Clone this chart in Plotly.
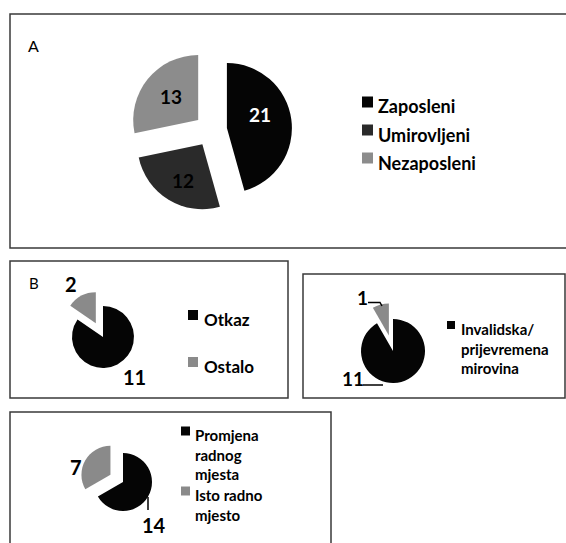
import plotly.graph_objects as go

W, H = 566, 543

# ---- data ----
a_labels = ["Zaposleni", "Umirovljeni", "Nezaposleni"]
a_values = [21, 12, 13]
a_colors = ["#050505", "#2a2a2a", "#8c8c8c"]
a_text_colors = ["white", "black", "black"]

b1_labels = ["Otkaz", "Ostalo"]
b1_values = [11, 2]
b1_colors = ["#050505", "#8a8a8a"]

b2_labels = ["Invalidska/<br>prijevremena<br>mirovina", "Ostalo"]
b2_values = [11, 1]
b2_colors = ["#050505", "#8a8a8a"]
b2_legend_items = [0]  # only first category listed in legend

c_labels = ["Promjena<br>radnog<br>mjesta", "Isto radno<br>mjesto"]
c_values = [14, 7]
c_colors = ["#050505", "#8a8a8a"]

FONT = "Lato"

# ---- layout helpers (pixel -> paper) ----
def px(x):
    return x / W


def py(y):
    return 1 - y / H


def domain(cx, cy, r, pull):
    h = r * (1 + max(pull))
    return dict(x=[px(cx - h), px(cx + h)], y=[py(cy + h), py(cy - h)])


fig = go.Figure()

shapes = []
annotations = []


def value_label(text, x, y, size=19, color="black"):
    annotations.append(dict(text="<b>%s</b>" % text, x=px(x), y=py(y), xref="paper", yref="paper",
                            xanchor="center", yanchor="middle", showarrow=False,
                            font=dict(family=FONT, size=size, color=color)))


def leader(points):
    path = "M " + " L ".join("%f,%f" % (px(x), py(y)) for x, y in points)
    shapes.append(dict(type="path", xref="paper", yref="paper", path=path,
                       line=dict(color="black", width=1.5)))


# Panel A
pa = [0.25, 0.25, 0.25]
fig.add_trace(go.Pie(
    labels=a_labels, values=a_values, sort=False, direction="clockwise", rotation=0,
    marker=dict(colors=a_colors, line=dict(width=0)), pull=pa,
    textinfo="none", domain=domain(210.8, 130.3, 65, pa), showlegend=False,
    hoverinfo="label+value"))
for v, c, (x, y) in zip(a_values, a_text_colors, [(260, 114), (183, 180), (171, 96)]):
    value_label(v, x, y, 19, c)

# Panel B1
pb1 = [0, 0.5]
fig.add_trace(go.Pie(
    labels=b1_labels, values=b1_values, sort=False, direction="clockwise", rotation=0,
    marker=dict(colors=b1_colors, line=dict(width=0)), pull=pb1,
    textinfo="none", domain=domain(103, 337, 31, pb1), showlegend=False,
    hoverinfo="label+value"))
for v, (x, y) in zip(b1_values, [(134, 377), (71, 284)]):
    value_label(v, x, y, 20)

# Panel B2
pb2 = [0, 0.5]
fig.add_trace(go.Pie(
    labels=b2_labels, values=b2_values, sort=False, direction="clockwise", rotation=0,
    marker=dict(colors=b2_colors, line=dict(width=0)), pull=pb2,
    textinfo="none", domain=domain(393, 351, 32, pb2), showlegend=False,
    hoverinfo="label+value"))
for v, (x, y) in zip(b2_values, [(353, 378), (362, 297)]):
    value_label(v, x, y, 19)
leader([(363, 385), (383, 385)])
leader([(368, 302.5), (380, 302.5), (382, 306)])

# Panel C
pc = [0, 0.5]
fig.add_trace(go.Pie(
    labels=c_labels, values=c_values, sort=False, direction="clockwise", rotation=0,
    marker=dict(colors=c_colors, line=dict(width=0)), pull=pc,
    textinfo="none", domain=domain(123, 482, 29, pc), showlegend=False,
    hoverinfo="label+value"))
for v, (x, y) in zip(c_values, [(154, 525), (76, 467)]):
    value_label(v, x, y, 20)
leader([(148, 497), (148, 510)])

# panel frames
frames = [(10, 14, 572, 248), (10, 261, 288, 398), (303, 274, 565, 398), (10, 412, 331, 550)]
for x0, y0, x1, y1 in frames:
    shapes.append(dict(type="rect", xref="paper", yref="paper",
                       x0=px(x0), x1=px(x1), y0=py(y1), y1=py(y0),
                       line=dict(color="#3a3a3a", width=1.5)))

# panel letters
annotations.append(dict(text="A", x=px(26), y=py(45), xref="paper", yref="paper",
                        xanchor="left", yanchor="middle", showarrow=False,
                        font=dict(family=FONT, size=16, color="black")))
annotations.append(dict(text="B", x=px(27), y=py(283), xref="paper", yref="paper",
                        xanchor="left", yanchor="middle", showarrow=False,
                        font=dict(family=FONT, size=15, color="black")))


def legend(labels, colors, idx, sq_x, text_x, ys, sq, size):
    for i, y in zip(idx, ys):
        shapes.append(dict(type="rect", xref="paper", yref="paper",
                           x0=px(sq_x), x1=px(sq_x + sq), y0=py(y + sq / 2), y1=py(y - sq / 2),
                           fillcolor=colors[i], line=dict(width=0)))
        annotations.append(dict(text="<b>%s</b>" % labels[i], x=px(text_x), y=py(y - sq / 2 - 3),
                                xref="paper", yref="paper", xanchor="left", yanchor="top",
                                align="left", showarrow=False,
                                font=dict(family=FONT, size=size, color="black")))


legend(a_labels, a_colors, [0, 1, 2], 362, 376, [102, 130, 158], 11, 18)
legend(b1_labels, b1_colors, [0, 1], 188, 202, [315, 362], 10, 17)
legend(b2_labels, b2_colors, b2_legend_items, 447, 459, [325], 8, 15)
legend(c_labels, c_colors, [0, 1], 181, 193, [431, 491], 9, 15)

fig.update_layout(
    width=W, height=H, margin=dict(l=0, r=0, t=0, b=0),
    paper_bgcolor="white", plot_bgcolor="white",
    shapes=shapes, annotations=annotations,
    font=dict(family=FONT, color="black"),
)

fig.write_html("out.html", config={"displayModeBar": False},
               post_script="document.body.style.margin='0';")
